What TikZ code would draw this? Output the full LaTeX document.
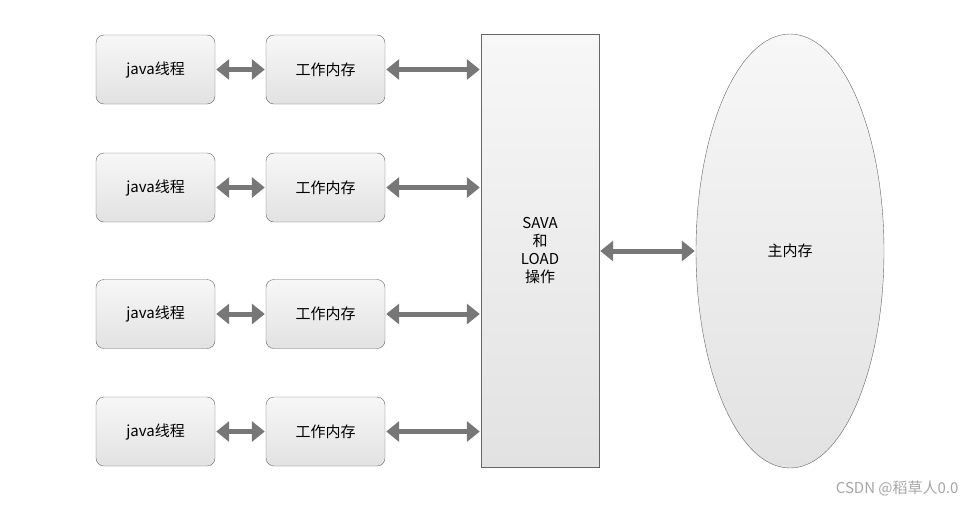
\documentclass[tikz,border=0pt]{standalone}
\usepackage{fontspec}
\setmainfont{Noto Sans CJK SC}
\usetikzlibrary{arrows.meta,shapes.geometric}
\definecolor{bd}{HTML}{666666}
\definecolor{ar}{HTML}{777777}
\definecolor{gt}{HTML}{F7F7F7}
\definecolor{gb}{HTML}{E2E2E2}
\begin{document}
\begin{tikzpicture}[x=1pt,y=-1pt,
 box/.style={draw=bd,rounded corners=8pt,top color=gt,bottom color=gb,minimum width=119pt,minimum height=69pt,font=\fontsize{15}{17}\selectfont,inner sep=0pt},
 arr/.style={draw=ar,line width=5pt,{Triangle[length=13pt,width=20pt]}-{Triangle[length=13pt,width=20pt]},shorten <=1pt,shorten >=1pt}]
\useasboundingbox (0,0) rectangle (977,507);
\node[draw=bd,top color=gt,bottom color=gb,minimum width=118pt,minimum height=433pt,inner sep=0pt,align=center,font=\fontsize{15}{18}\selectfont] (s) at (540,250.5) {SAVA\\和\\LOAD\\操作};
\node[ellipse,draw=bd,top color=gt,bottom color=gb,minimum width=188pt,minimum height=434pt,inner sep=0pt,font=\fontsize{15}{17}\selectfont] (m) at (790,251) {主内存};
\foreach \i/\y in {1/69.5,2/187.5,3/314,4/431.5}{
 \node[box] (j\i) at (155.5,\y) {java线程};
 \node[box] (w\i) at (325.5,\y) {工作内存};
 \draw[arr] (j\i) -- (w\i);
 \draw[arr] (w\i.east) -- (w\i.east -| s.west);
}
\draw[arr] (s.east |- m) -- (m.west);
\node[text=gray!70,font=\fontsize{15}{17}\selectfont,anchor=east] (wm) at (962,488) {CSDN @稻草人0.0};
\end{tikzpicture}
\end{document}
